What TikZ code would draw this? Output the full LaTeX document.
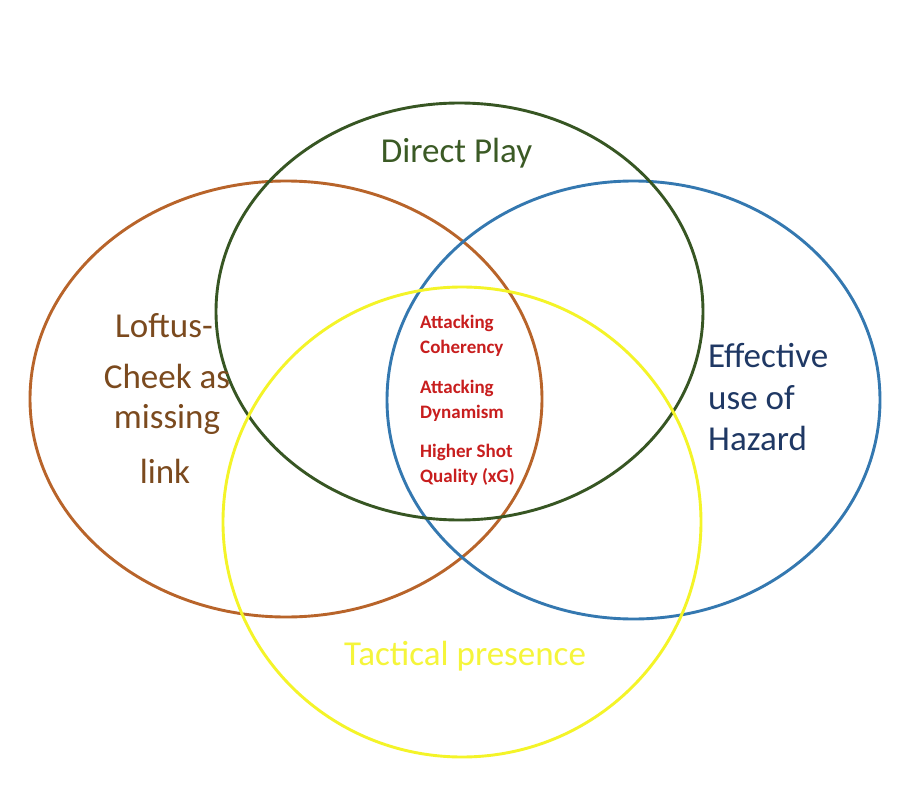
\documentclass[tikz,border=0pt]{standalone}
\usepackage{fontspec}
\setmainfont{Carlito}
\definecolor{cgreen}{HTML}{375623}
\definecolor{cbrown}{HTML}{B8642A}
\definecolor{cblue}{HTML}{3478B0}
\definecolor{cyellow}{HTML}{F4F428}
\definecolor{tbrown}{HTML}{7B4A1E}
\definecolor{tnavy}{HTML}{1F3864}
\definecolor{tgreen}{HTML}{3B5A25}
\definecolor{tyellow}{HTML}{F5F53A}
\definecolor{tred}{HTML}{C81E1E}
\begin{document}
\begin{tikzpicture}[x=1pt,y=-1pt,
  ring/.style={line width=2.9pt},
  big/.style={anchor=base,inner sep=0pt,font=\fontsize{35}{42}\selectfont},
  small/.style={anchor=base west,inner sep=0pt,text=tred,font=\fontsize{19}{23}\selectfont\bfseries}]
\useasboundingbox[fill=white] (0,0) rectangle (914,808);
\draw[ring,cbrown] (286,399) ellipse [x radius=256, y radius=218];
\draw[ring,cblue] (633.5,400) ellipse [x radius=246.5, y radius=219];
\draw[ring,cgreen] (459.5,311.5) ellipse [x radius=243.5, y radius=208.5];
\draw[ring,cyellow] (462,522) ellipse [x radius=239, y radius=235];
\node[big,text=tgreen] (dp) at (456.5,162) {Direct Play};
\node[big,text=tbrown] (l1) at (164,337) {Loftus-};
\node[big,text=tbrown] (l2) at (167,388) {Cheek as};
\node[big,text=tbrown] (l3) at (167,428) {missing};
\node[big,text=tbrown] (l4) at (165,483) {link};
\node[big,anchor=base west,text=tnavy] (e1) at (708,367) {Effective};
\node[big,anchor=base west,text=tnavy] (e2) at (708,409) {use of};
\node[big,anchor=base west,text=tnavy] (e3) at (708,450) {Hazard};
\node[big,text=tyellow] (tp) at (465,665) {Tactical presence};
\node[small] (r1) at (420,328) {Attacking};
\node[small] (r2) at (420,353) {Coherency};
\node[small] (r3) at (420,393) {Attacking};
\node[small] (r4) at (420,418) {Dynamism};
\node[small] (r5) at (420,457) {Higher Shot};
\node[small] (r6) at (420,482) {Quality (xG)};
\end{tikzpicture}
\end{document}
